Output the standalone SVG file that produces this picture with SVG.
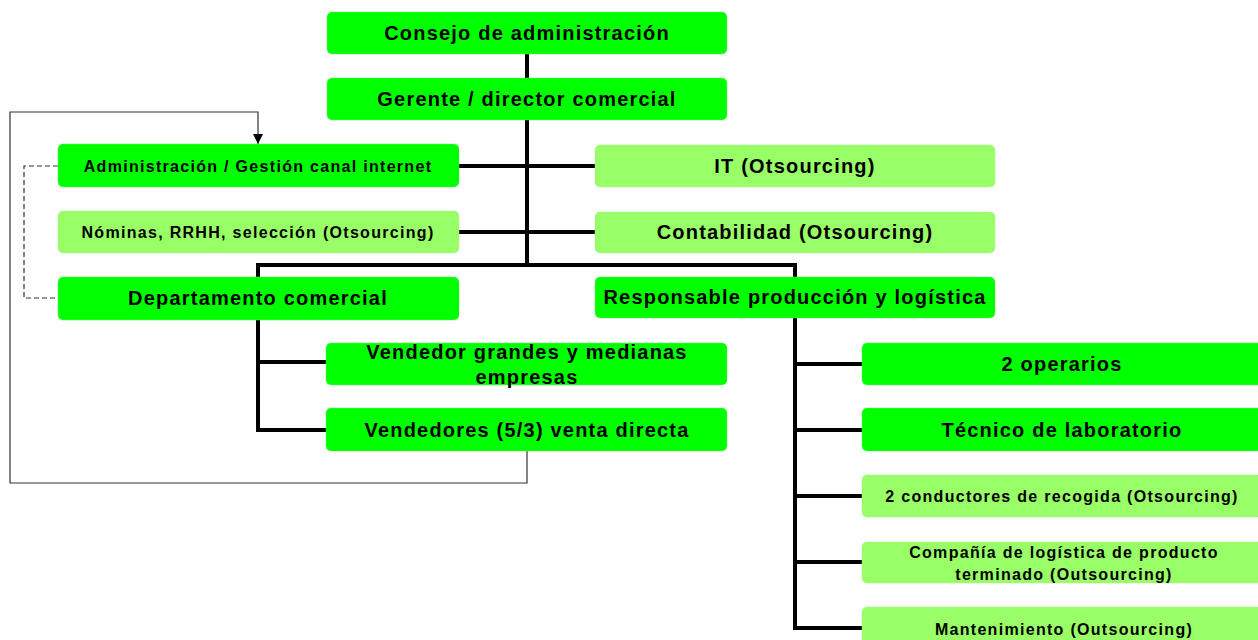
<svg xmlns="http://www.w3.org/2000/svg" width="1258" height="640" viewBox="0 0 1258 640">
<style>
.b{fill:#00ff00;stroke:#66ee66;stroke-width:0.5}
.l{fill:#99ff66;stroke:#aaee88;stroke-width:0.5}
.t{font-family:"Liberation Sans",Arial,sans-serif;font-weight:bold;fill:#000;text-anchor:middle}
.L{font-size:20px;letter-spacing:1.2px}
.S{font-size:16px;letter-spacing:1.3px}
.c{stroke:#000;stroke-width:4;fill:none}
.th{stroke:#333;stroke-width:1.2;fill:none}
.d{stroke:#333;stroke-width:1.2;fill:none;stroke-dasharray:5,3}
</style>
<defs>
<marker id="ar" viewBox="0 0 10 10" refX="10" refY="5" markerWidth="10" markerHeight="10" markerUnits="userSpaceOnUse" orient="auto">
<path d="M0,0 L10,5 L0,10 z" fill="#000"/>
</marker>
</defs>
<g id="connectors">
<path class="c" d="M527,54 V78"/>
<path class="c" d="M527,120 V265"/>
<path class="c" d="M459,166 H595"/>
<path class="c" d="M459,232 H595"/>
<path class="c" d="M258,277 V265 H795 V277"/>
<path class="c" d="M258,320 V430 H326"/>
<path class="c" d="M258,362 H326"/>
<path class="c" d="M795,318 V628 H862"/>
<path class="c" d="M795,364 H862"/>
<path class="c" d="M795,430 H862"/>
<path class="c" d="M795,496 H862"/>
<path class="c" d="M795,562 H862"/>
<path class="th" d="M527,451 V483 H10 V112 H258 V144" marker-end="url(#ar)"/>
<path class="d" d="M58,166 H24 V298 H58"/>
</g>
<g id="consejo"><rect class="b" x="327" y="12" width="400" height="42" rx="5"/><text class="t L" x="527" y="40">Consejo de administración</text></g>
<g id="gerente"><rect class="b" x="327" y="78" width="400" height="42" rx="5"/><text class="t L" x="527" y="106">Gerente / director comercial</text></g>
<g id="admin"><rect class="b" x="58" y="144" width="401" height="43" rx="5"/><text class="t S" x="258" y="172">Administración / Gestión canal internet</text></g>
<g id="nominas"><rect class="l" x="58" y="211" width="401" height="42" rx="5"/><text class="t S" x="258" y="238">Nóminas, RRHH, selección (Otsourcing)</text></g>
<g id="it"><rect class="l" x="595" y="145" width="400" height="42" rx="5"/><text class="t L" x="795" y="173">IT (Otsourcing)</text></g>
<g id="contabilidad"><rect class="l" x="595" y="212" width="400" height="41" rx="5"/><text class="t L" x="795" y="239">Contabilidad (Otsourcing)</text></g>
<g id="departamento"><rect class="b" x="58" y="277" width="401" height="43" rx="5"/><text class="t L" x="258" y="305">Departamento comercial</text></g>
<g id="responsable"><rect class="b" x="595" y="277" width="400" height="41" rx="5"/><text class="t L" x="795" y="304">Responsable producción y logística</text></g>
<g id="vendedor"><rect class="b" x="326" y="343" width="401" height="42" rx="5"/><text class="t L" x="527" y="359">Vendedor grandes y medianas</text><text class="t L" x="527" y="384">empresas</text></g>
<g id="vendedores"><rect class="b" x="326" y="408" width="401" height="43" rx="5"/><text class="t L" x="527" y="437">Vendedores (5/3) venta directa</text></g>
<g id="operarios"><rect class="b" x="862" y="343" width="400" height="42" rx="5"/><text class="t L" x="1062" y="371">2 operarios</text></g>
<g id="tecnico"><rect class="b" x="862" y="408" width="400" height="43" rx="5"/><text class="t L" x="1062" y="437">Técnico de laboratorio</text></g>
<g id="conductores"><rect class="l" x="862" y="475" width="400" height="42" rx="5"/><text class="t S" x="1062" y="502">2 conductores de recogida (Otsourcing)</text></g>
<g id="compania"><rect class="l" x="862" y="542" width="400" height="41" rx="5"/><text class="t S" x="1064" y="558">Compañía de logística de producto</text><text class="t S" x="1064" y="580">terminado (Outsourcing)</text></g>
<g id="mantenimiento"><rect class="l" x="862" y="607" width="400" height="42" rx="5"/><text class="t S" x="1064" y="635">Mantenimiento (Outsourcing)</text></g>
</svg>
